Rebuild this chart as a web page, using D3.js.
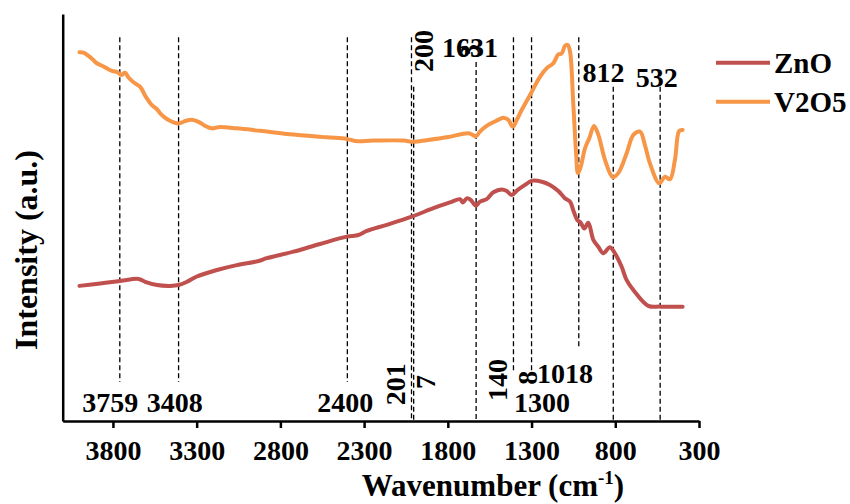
<!DOCTYPE html>
<html>
<head>
<meta charset="utf-8">
<script src="https://cdn.jsdelivr.net/npm/d3@7"></script>
<style>
  html, body { margin: 0; padding: 0; background: #fff; }
  svg text { font-family: "Liberation Serif", "Times New Roman", serif; font-weight: bold; fill: #000; }
</style>
</head>
<body>
<svg id="chart" width="850" height="504"></svg>
<script>
// ---- data ----
const seriesNames = ["ZnO", "V2O5"];
const seriesColors = ["#C0504D", "#F79646"];
const xTicks = [3800, 3300, 2800, 2300, 1800, 1300, 800, 300];

const v2o5Wn = [4000,3975,3946,3922,3896,3856,3806,3773,3750,3727,3707,3673,3637,3607,3567,3537,3518,3478,3438,3408,3368,3328,3289,3249,3209,3170,3060,2921,2722,2523,2403,2354,2244,2065,2006,1926,1806,1677,1651,1633,1608,1568,1508,1468,1439,1412,1388,1359,1309,1249,1209,1170,1140,1120,1100,1084,1070,1051,1034,1023,1006,981,955,927,901,861,815,782,732,692,652,623,593,537,503,473,444,418,398];
const v2o5Val = [90.6,90.5,89.7,88.9,87.9,87.1,86.0,85.7,85.0,85.6,84.4,83.1,82.1,79.9,77.6,76.6,75.6,74.2,73.4,73.1,73.7,74.0,73.5,72.5,71.9,72.2,71.9,71.3,70.4,69.7,69.3,68.8,68.9,68.9,68.6,69.0,69.7,70.7,70.3,69.9,71.1,72.5,73.8,74.5,74.0,72.3,74.0,76.4,80.1,84.6,86.7,87.9,90.1,90.3,92.2,92.4,90.7,78.1,65.8,60.9,62.5,67.0,69.5,72.5,70.3,64.1,59.9,60.9,65.8,70.3,71.1,67.8,63.3,58.4,60.0,59.4,64.1,71.3,71.5];

const znoWn = [4000,3876,3756,3647,3607,3537,3458,3408,3358,3299,3179,3060,2931,2881,2722,2563,2403,2334,2284,2164,2015,1886,1787,1727,1711,1687,1663,1633,1608,1568,1528,1478,1448,1418,1388,1339,1299,1239,1190,1140,1100,1070,1051,1027,1006,985,961,931,901,872,832,802,762,732,692,603,533,398];
const znoVal = [33.2,33.8,34.4,34.9,34.2,33.4,33.2,33.4,34.2,35.5,37.1,38.3,39.3,40.0,41.6,43.5,45.3,45.7,46.7,48.2,50.2,52.3,53.7,54.5,53.7,54.7,54.3,52.9,53.9,54.5,56.2,56.9,56.5,55.5,56.6,58.0,59.0,58.8,58.0,56.5,54.7,53.9,51.8,49.4,48.7,47.3,48.7,44.5,42.8,41.2,42.7,41.2,37.9,34.6,32.2,28.3,28.1,28.1];

// marker lines: wavenumber, top and bottom (intensity units)
const peakWn     = [3759, 3408, 2400, 2017, 2004, 1631, 1408, 1300, 1018, 812, 532];
const peakTop    = [94.3, 94.3, 94.3, 94.3, 82.1, 88.2, 94.3, 94.3, 94.3, 82.1, 82.1];
const peakBottom = [9.6, 9.6, 9.6, 0, 0, 0, 11.8, 11.3, 17.9, 0, 0];

// peak labels: text, wavenumber anchor, intensity anchor, rotated?
const labelText = ["3759", "3408", "2400", "1300", "1018", "1631", "812", "532", "201", "7", "140", "8", "200", "3"];
const labelWn   = [3816, 3431, 2413, 1237, 1100, 1667, 870, 553, 2055, 1876, 1446, 1267, 1888, 1614];
const labelVal  = [2.2, 2.2, 2.2, 2.2, 9.3, 89.4, 83.3, 82.1, 9.0, 9.6, 10.1, 10.6, 90.9, 90.9];
const labelRot  = [false, false, false, false, false, false, false, false, true, true, true, true, true, true];

// ---- chart ----
const svg = d3.select("#chart");
const plot = { left: 62.7, right: 699, top: 14, bottom: 421 };

const x = d3.scaleLinear().domain([4100, 300]).range([plot.left, plot.right]);
const y = d3.scaleLinear().domain([0, 100]).range([plot.bottom, plot.top]);

// peak marker lines
svg.append("g").selectAll("line")
  .data(peakWn.map((w, i) => ({ w, t: peakTop[i], b: peakBottom[i] })))
  .join("line")
  .attr("x1", d => x(d.w)).attr("x2", d => x(d.w))
  .attr("y1", d => y(d.t)).attr("y2", d => y(d.b))
  .attr("stroke", "#000").attr("stroke-width", 1.3)
  .attr("stroke-dasharray", "5,3");

// series
const line = d3.line().x(d => x(d[0])).y(d => y(d[1])).curve(d3.curveCatmullRom.alpha(0.5));
const series = [
  { name: seriesNames[0], pts: znoWn.map((w, i) => [w, znoVal[i]]), color: seriesColors[0] },
  { name: seriesNames[1], pts: v2o5Wn.map((w, i) => [w, v2o5Val[i]]), color: seriesColors[1] }
];
svg.append("g").selectAll("path")
  .data(series)
  .join("path")
  .attr("d", d => line(d.pts))
  .attr("fill", "none")
  .attr("stroke", d => d.color)
  .attr("stroke-width", 4)
  .attr("stroke-linejoin", "round")
  .attr("stroke-linecap", "round");

// peak labels
svg.append("g").selectAll("text")
  .data(labelText.map((t, i) => ({ t, w: labelWn[i], v: labelVal[i], r: labelRot[i] })))
  .join("text")
  .attr("transform", d => d.r
      ? `translate(${x(d.w)},${y(d.v)}) rotate(-90)`
      : `translate(${x(d.w)},${y(d.v)})`)
  .attr("text-anchor", "middle")
  .style("font-size", "28px")
  .text(d => d.t);

// x axis
const xAxis = d3.axisBottom(x).tickValues(xTicks).tickSize(7).tickSizeOuter(0).tickPadding(12)
  .tickFormat(d3.format("d"));
const gx = svg.append("g").attr("transform", `translate(0,${plot.bottom})`).call(xAxis);
gx.select(".domain").attr("stroke", "#000").attr("stroke-width", 2.5);
gx.selectAll(".tick line").attr("stroke", "#000").attr("stroke-width", 2.5);
gx.selectAll(".tick text")
  .style("font-size", "28px")
  .style("font-family", '"Liberation Serif", "Times New Roman", serif')
  .style("font-weight", "bold")
  .attr("fill", "#000");

// y axis line (no ticks)
const yAxis = d3.axisLeft(y).tickValues([]).tickSizeOuter(0);
const gy = svg.append("g").attr("transform", `translate(${plot.left},0)`).call(yAxis);
gy.select(".domain").attr("stroke", "#000").attr("stroke-width", 2.5);

// axis titles
const xt = svg.append("text")
  .attr("x", 493).attr("y", 496)
  .attr("text-anchor", "middle")
  .style("font-size", "31px");
xt.append("tspan").text("Wavenumber (cm");
xt.append("tspan").attr("dy", "-12").style("font-size", "19px").text("-1");
xt.append("tspan").attr("dy", "12").text(")");

svg.append("text")
  .attr("transform", "translate(37,250) rotate(-90)")
  .attr("text-anchor", "middle")
  .style("font-size", "32px")
  .text("Intensity (a.u.)");

// legend
const leg = svg.append("g").selectAll("g")
  .data(series)
  .join("g")
  .attr("transform", (d, i) => `translate(716,${62.7 + i * 39})`);
leg.append("line")
  .attr("x1", 0).attr("x2", 54).attr("y1", 0).attr("y2", 0)
  .attr("stroke", d => d.color).attr("stroke-width", 4);
leg.append("text")
  .attr("x", 58).attr("y", 10.5)
  .style("font-size", "29px")
  .text(d => d.name);
</script>
</body>
</html>
